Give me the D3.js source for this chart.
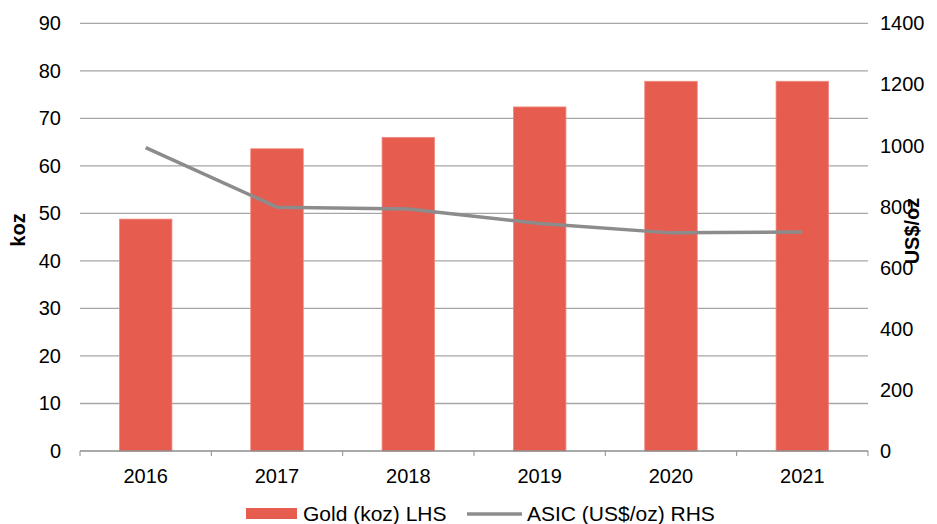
<!DOCTYPE html>
<html>
<head>
<meta charset="utf-8">
<script src="https://cdn.jsdelivr.net/npm/d3@7"></script>
<style>
  html, body { margin: 0; padding: 0; background: #fff; }
  svg text { font-family: "Liberation Sans", Arial, sans-serif; fill: #000; }
</style>
</head>
<body>
<svg id="chart" width="937" height="524"></svg>
<script>
const years = ["2016", "2017", "2018", "2019", "2020", "2021"];
const goldKoz = [48.8, 63.6, 66.0, 72.4, 77.8, 77.8];
const asicUsdOz = [993, 798, 792, 745, 714, 717];
const leftTicks = [0, 10, 20, 30, 40, 50, 60, 70, 80, 90];
const rightTicks = [0, 200, 400, 600, 800, 1000, 1200, 1400];
const legendLabels = ["Gold (koz) LHS", "ASIC (US$/oz) RHS"];
const axisTitles = ["koz", "US$/oz"];

const svg = d3.select("#chart");
const m = { left: 80, right: 868, top: 23.3, bottom: 451 };

const x = d3.scaleBand().domain(years).range([m.left, m.right]).paddingInner(0.6).paddingOuter(0.3);
const xBound = d3.scaleBand().domain(years).range([m.left, m.right]);
const yL = d3.scaleLinear().domain([0, 90]).range([m.bottom, m.top]);
const yR = d3.scaleLinear().domain([0, 1400]).range([m.bottom, m.top]);

// gridlines
svg.append("g").selectAll("line").data(leftTicks.filter(d => d > 0)).join("line")
  .attr("x1", m.left).attr("x2", m.right)
  .attr("y1", d => yL(d)).attr("y2", d => yL(d))
  .attr("stroke", "#a6a6a6").attr("stroke-width", 1.3);

// bars
svg.append("g").selectAll("rect").data(years).join("rect")
  .attr("x", d => x(d)).attr("width", x.bandwidth())
  .attr("y", (d, i) => yL(goldKoz[i]))
  .attr("height", (d, i) => yL(0) - yL(goldKoz[i]))
  .attr("fill", "#e65c4e")
  .attr("stroke", "#f08b80").attr("stroke-width", 0.8);

// x axis line and ticks
svg.append("line").attr("x1", m.left).attr("x2", m.right)
  .attr("y1", m.bottom).attr("y2", m.bottom)
  .attr("stroke", "#8c8c8c").attr("stroke-width", 1.5);
const bounds = years.map(d => xBound(d)).concat([m.right]);
svg.append("g").selectAll("line").data(bounds).join("line")
  .attr("x1", d => d).attr("x2", d => d)
  .attr("y1", m.bottom).attr("y2", m.bottom + 5)
  .attr("stroke", "#8c8c8c").attr("stroke-width", 1);

// x labels
svg.append("g").selectAll("text").data(years).join("text")
  .attr("x", d => xBound(d) + xBound.bandwidth() / 2)
  .attr("y", 483)
  .attr("text-anchor", "middle").attr("font-size", 20)
  .text(d => d);

// left labels
svg.append("g").selectAll("text").data(leftTicks).join("text")
  .attr("x", 61).attr("y", d => yL(d) + 7)
  .attr("text-anchor", "end").attr("font-size", 20)
  .text(d => d);

// right labels
svg.append("g").selectAll("text").data(rightTicks).join("text")
  .attr("x", 880).attr("y", d => yR(d) + 7)
  .attr("text-anchor", "start").attr("font-size", 20)
  .text(d => d);

// line
const line = d3.line()
  .x((d, i) => xBound(years[i]) + xBound.bandwidth() / 2)
  .y(d => yR(d));
svg.append("path").datum(asicUsdOz)
  .attr("d", line).attr("fill", "none")
  .attr("stroke", "#8c8c8c").attr("stroke-width", 3.5)
  .attr("stroke-linejoin", "round");

// axis titles
svg.append("text").attr("transform", "translate(25,230) rotate(-90)")
  .attr("text-anchor", "middle").attr("font-size", 20).attr("font-weight", "bold")
  .text(axisTitles[0]);
svg.append("text").attr("transform", "translate(919,231) rotate(-90)")
  .attr("text-anchor", "middle").attr("font-size", 20).attr("font-weight", "bold")
  .text(axisTitles[1]);

// legend
const lg = svg.append("g");
lg.append("rect").attr("x", 246).attr("y", 508).attr("width", 51).attr("height", 11).attr("fill", "#e65c4e");
lg.append("text").attr("x", 303).attr("y", 521).attr("font-size", 21).text(legendLabels[0]);
lg.append("line").attr("x1", 467).attr("x2", 522).attr("y1", 514).attr("y2", 514)
  .attr("stroke", "#8c8c8c").attr("stroke-width", 3.5);
lg.append("text").attr("x", 527).attr("y", 521).attr("font-size", 21).text(legendLabels[1]);
</script>
</body>
</html>
